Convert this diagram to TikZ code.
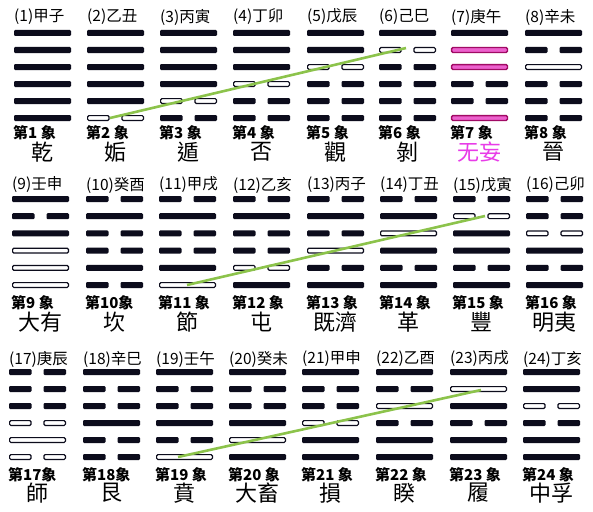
\documentclass[tikz,border=0pt]{standalone}
\usepackage{fontspec}
\setmainfont{Noto Sans CJK TC}
\definecolor{yaoink}{RGB}{12,12,28}
\definecolor{greenlink}{RGB}{140,195,75}
\definecolor{pinkedge}{RGB}{160,10,100}
\definecolor{pinkfill}{RGB}{236,96,205}
\definecolor{pinktext}{RGB}{232,60,232}
\tikzset{
  yangbar/.style={fill=yaoink, rounded corners=1.2pt},
  hollowbar/.style={draw=yaoink, fill=white, line width=1.2pt, rounded corners=1.2pt},
  pinkbar/.style={draw=pinkedge, fill=pinkfill, line width=1.3pt, rounded corners=1.2pt},
  hdr/.style={anchor=west, inner sep=0pt, font=\fontsize{15.5}{15.5}\selectfont},
  numlab/.style={anchor=west, inner sep=0pt, font=\fontsize{15}{15}\selectfont\bfseries},
  hexname/.style={anchor=center, inner sep=0pt, font=\fontsize{22}{22}\selectfont},
  link/.style={draw=greenlink, line width=2.6pt}
}
\newcommand\yaoS[2]{\fill[yangbar] (#1,#2-3) rectangle ++(57,6);}
\newcommand\yaoB[2]{\fill[yangbar] (#1,#2-3) rectangle ++(22.5,6);
  \fill[yangbar] (#1+34.5,#2-3) rectangle ++(22.5,6);}
\newcommand\yaoH[2]{\draw[hollowbar] (#1+.6,#2-2.4) rectangle ++(55.8,4.8);}
\newcommand\yaoK[2]{\draw[hollowbar] (#1+.6,#2-2.4) rectangle ++(21.4,4.8);
  \draw[hollowbar] (#1+35,#2-2.4) rectangle ++(21.4,4.8);}
\newcommand\yaoP[2]{\draw[pinkbar] (#1+.6,#2-2.4) rectangle ++(55.8,4.8);}
% #1 left x, #2 id, #3 header, #4 number label, #5 name, #6 codes
\newcommand\hexcell[6]{%
  \foreach \code [count=\k] in {#6}{%
    \pgfmathsetmacro\yy{\rowtop+(\k-1)*\rowstep}%
    \csname yao\code\endcsname{#1}{\yy}}%
  \node[hdr] (hd#2) at (#1,\hdry) {#3};
  \node[numlab] (nl#2) at (#1-1,\numy) {#4};
  \node[hexname] (nm#2) at (#1+28.5,\namey) {#5};
}
\begin{document}
\begin{tikzpicture}[x=1pt,y=-1pt]
\fill[white] (0,0) rectangle (593,511);
\useasboundingbox (0,0) rectangle (593,511);
% Row 1
\def\rowtop{33}\def\rowstep{17}\def\hdry{17}\def\numy{133}\def\namey{152}
\hexcell{14}{1}{(1)甲子}{第1 象}{乾}{S,S,S,S,S,S}
\hexcell{87}{2}{(2)乙丑}{第2 象}{姤}{S,S,S,S,S,K}
\hexcell{160}{3}{(3)丙寅}{第3 象}{遁}{S,S,S,S,K,B}
\hexcell{233}{4}{(4)丁卯}{第4 象}{否}{S,S,S,K,B,B}
\hexcell{307}{5}{(5)戊辰}{第5 象}{觀}{S,S,K,B,B,B}
\hexcell{379}{6}{(6)己巳}{第6 象}{剝}{S,K,B,B,B,B}
\hexcell{451}{7}{(7)庚午}{第7 象}{\color{pinktext}无妄}{S,P,P,B,B,P}
\hexcell{525}{8}{(8)辛未}{第8 象}{晉}{S,B,H,B,B,B}
% Row 2
\def\rowtop{199}\def\rowstep{17.2}\def\hdry{185}\def\numy{303}\def\namey{322}
\hexcell{12}{9}{(9)壬申}{第9 象}{大有}{S,B,S,H,H,H}
\hexcell{86}{10}{(10)癸酉}{第10象}{坎}{B,S,B,B,S,B}
\hexcell{159}{11}{(11)甲戌}{第11 象}{節}{B,S,B,B,S,H}
\hexcell{233}{12}{(12)乙亥}{第12 象}{屯}{B,S,B,B,K,S}
\hexcell{307}{13}{(13)丙子}{第13 象}{既濟}{B,S,B,H,B,S}
\hexcell{380}{14}{(14)丁丑}{第14 象}{革}{B,S,H,S,B,S}
\hexcell{453}{15}{(15)戊寅}{第15 象}{豐}{B,K,S,S,B,S}
\hexcell{526}{16}{(16)己卯}{第16 象}{明夷}{B,B,K,S,B,S}
% Row 3
\def\rowtop{372}\def\rowstep{17}\def\hdry{359}\def\numy{475}\def\namey{493}
\hexcell{9}{17}{(17)庚辰}{第17象}{師}{B,B,B,K,H,K}
\hexcell{83}{18}{(18)辛巳}{第18象}{艮}{S,B,B,S,B,B}
\hexcell{156}{19}{(19)壬午}{第19 象}{賁}{S,B,B,S,B,H}
\hexcell{229}{20}{(20)癸未}{第20 象}{大畜}{S,B,B,S,H,S}
\hexcell{302}{21}{(21)甲申}{第21 象}{損}{S,B,B,K,S,S}
\hexcell{376}{22}{(22)乙酉}{第22 象}{睽}{S,B,H,B,S,S}
\hexcell{450}{23}{(23)丙戌}{第23 象}{履}{S,H,S,B,S,S}
\hexcell{523}{24}{(24)丁亥}{第24 象}{中孚}{S,S,K,B,S,S}
% green links
\coordinate (g1a) at (110,118); \coordinate (g1b) at (406,48);
\coordinate (g2a) at (187,285); \coordinate (g2b) at (485,216);
\coordinate (g3a) at (178,457); \coordinate (g3b) at (481,390);
\draw[link] (g1a) -- (g1b);
\draw[link] (g2a) -- (g2b);
\draw[link] (g3a) -- (g3b);
\end{tikzpicture}
\end{document}
